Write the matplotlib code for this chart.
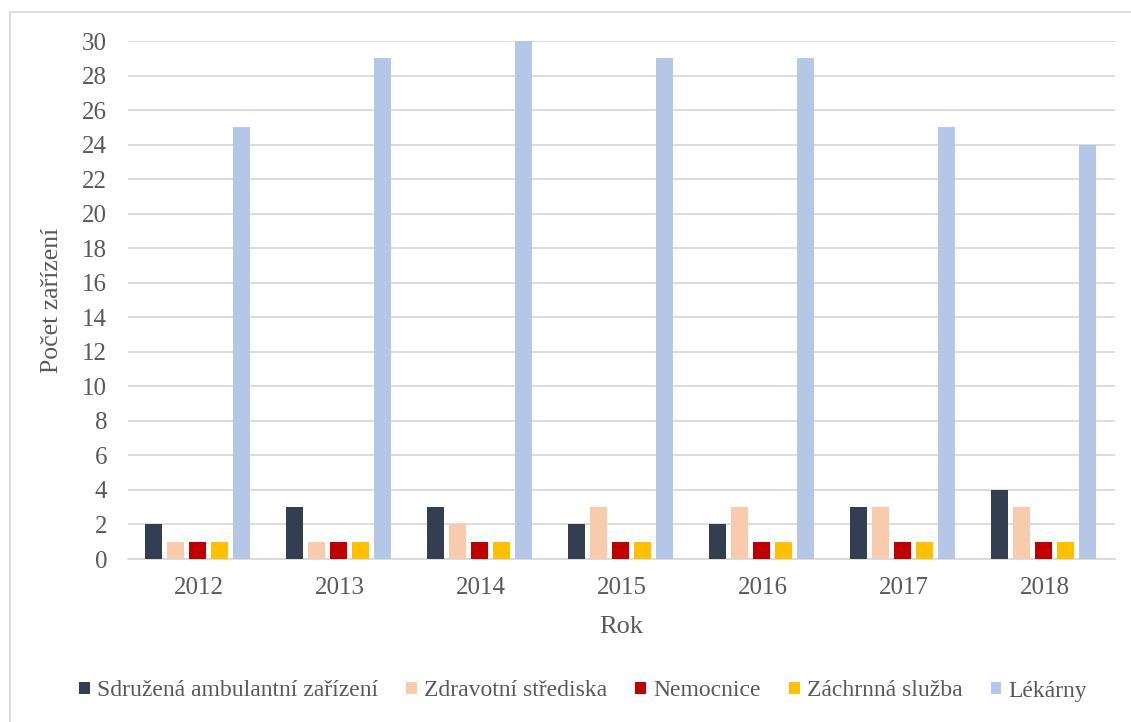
import numpy as np
import matplotlib.pyplot as plt
from matplotlib.patches import Rectangle

plt.rcParams['font.family'] = ['Liberation Serif', 'DejaVu Serif']

roky = ['2012', '2013', '2014', '2015', '2016', '2017', '2018']
nazvy = ['Sdružená ambulantní zařízení', 'Zdravotní střediska', 'Nemocnice',
         'Záchrnná služba', 'Lékárny']
sdruzena = [2, 3, 3, 2, 2, 3, 4]
strediska = [1, 1, 2, 3, 3, 3, 3]
nemocnice = [1, 1, 1, 1, 1, 1, 1]
zachranka = [1, 1, 1, 1, 1, 1, 1]
lekarny = [25, 29, 30, 29, 29, 25, 24]
barvy = ['#333f50', '#f8cbad', '#c00000', '#ffc000', '#b4c7e7']

serie = [sdruzena, strediska, nemocnice, zachranka, lekarny]
sedy = '#595959'

fig = plt.figure(figsize=(11.31, 7.22), dpi=100)
ax = fig.add_axes([128/1131, 163/722, 987/1131, 518/722])

x = np.arange(len(roky))
sirka = 0.12
krok = 0.156
for i, (hodnoty, barva, nazev) in enumerate(zip(serie, barvy, nazvy)):
    ax.bar(x + (i - 2) * krok - 0.005, hodnoty, sirka, color=barva, label=nazev, zorder=3)

ax.set_xlim(-0.5, 6.5)
ax.set_ylim(0, 30)
ax.set_yticks(range(0, 31, 2))
ax.set_xticks(x)
ax.set_xticklabels(roky)
ax.grid(axis='y', color='#d9d9d9', linewidth=1.3, zorder=0)
for s in ['top', 'right', 'left']:
    ax.spines[s].set_visible(False)
ax.spines['bottom'].set_color('#d9d9d9')
ax.spines['bottom'].set_linewidth(1.3)
ax.tick_params(axis='both', length=0, labelsize=18, labelcolor=sedy)
ax.tick_params(axis='y', pad=15)
ax.tick_params(axis='x', pad=13)

ax.set_xlabel('Rok', fontsize=19, color=sedy, labelpad=12)
ax.set_ylabel('Počet zařízení', fontsize=18.5, color=sedy, labelpad=14)

leg = fig.legend(loc='center', bbox_to_anchor=(583/1131, 31/722), ncol=5,
                 frameon=False, fontsize=17, handlelength=0.45, handleheight=0.45,
                 handletextpad=0.3, columnspacing=1.2)
for t in leg.get_texts():
    t.set_color(sedy)

fig.patches.append(Rectangle((10/1131, -0.1), 1.2, 0.1 + 710/722,
                             transform=fig.transFigure, fill=False,
                             edgecolor='#d9d9d9', linewidth=1.3))

fig.savefig('out.png', dpi=100)
